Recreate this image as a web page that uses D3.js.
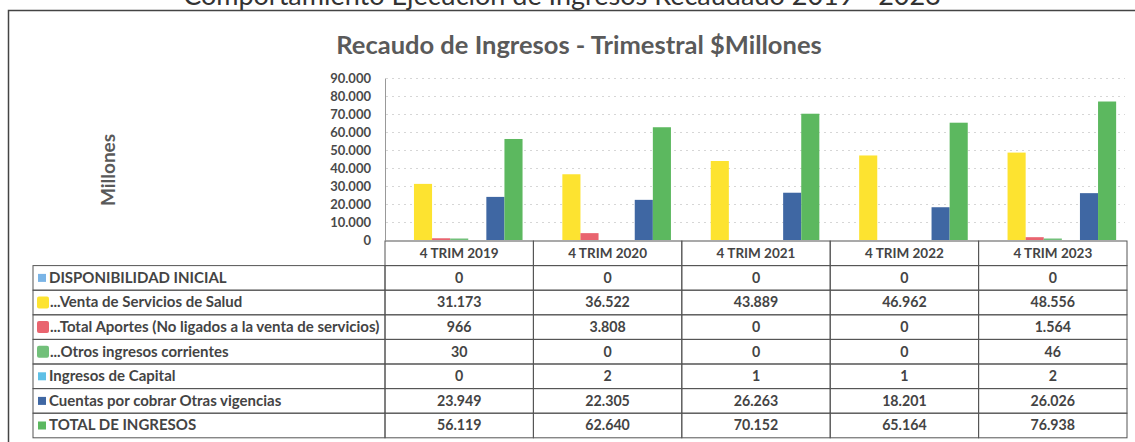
<!DOCTYPE html>
<html>
<head>
<meta charset="utf-8">
<script src="https://cdnjs.cloudflare.com/ajax/libs/d3/7.8.5/d3.min.js"></script>
<style>
  body { margin: 0; background: #fff; }
  svg { display: block; font-family: Lato, "Open Sans", sans-serif; }
</style>
</head>
<body>
<div id="viz"></div>
<script>
var width = 1135;
var height = 442;

// data
var categories = ["4 TRIM 2019", "4 TRIM 2020", "4 TRIM 2021", "4 TRIM 2022", "4 TRIM 2023"];
var seriesNames = [
  "DISPONIBILIDAD INICIAL",
  "...Venta de Servicios de Salud",
  "...Total Aportes (No ligados a la venta de servicios)",
  "...Otros ingresos corrientes",
  "Ingresos de Capital",
  "Cuentas por cobrar Otras vigencias",
  "TOTAL DE INGRESOS"
];
var seriesColors = ["#7ab4e6", "#fde330", "#e9646f", "#72c07a", "#5fc0e6", "#3f67a3", "#5cb85f"];
var disponibilidad = [0, 0, 0, 0, 0];
var ventaServicios = [31173, 36522, 43889, 46962, 48556];
var totalAportes = [966, 3808, 0, 0, 1564];
var otrosIngresos = [30, 0, 0, 0, 46];
var ingresosCapital = [0, 2, 1, 1, 2];
var cuentasCobrar = [23949, 22305, 26263, 18201, 26026];
var totalIngresos = [56119, 62640, 70152, 65164, 76938];
var yTicks = [0, 10000, 20000, 30000, 40000, 50000, 60000, 70000, 80000, 90000];

var seriesValues = [disponibilidad, ventaServicios, totalAportes, otrosIngresos,
                    ingresosCapital, cuentasCobrar, totalIngresos];

var es = d3.formatLocale({decimal: ",", thousands: ".", grouping: [3], currency: ["$", ""]});
var fmt = es.format(",d");

var canvas = d3.select("#viz")
    .append("svg")
    .attr("width", width)
    .attr("height", height);

// page heading, cut off by the scan
canvas.append("text")
    .attr("x", 562)
    .attr("y", 5)
    .attr("text-anchor", "middle")
    .attr("font-size", 27)
    .attr("fill", "#333")
    .text("Comportamiento Ejecución de Ingresos Recaudado 2019 - 2023");

// frame of the pasted chart
canvas.append("path")
    .attr("d", "M8.5," + height + "V10.5H" + width)
    .attr("fill", "none")
    .attr("stroke", "#444")
    .attr("stroke-width", 1.5);

canvas.append("text")
    .attr("x", 579)
    .attr("y", 54)
    .attr("text-anchor", "middle")
    .attr("font-size", 25.5)
    .attr("font-weight", "bold")
    .attr("fill", "#5a5a5a")
    .text("Recaudo de Ingresos - Trimestral $Millones");

var x0 = d3.scaleBand()
    .domain(categories)
    .range([385, 1127]);

var x1 = d3.scaleBand()
    .domain(d3.range(seriesNames.length))
    .range([0, x0.bandwidth()])
    .paddingOuter(0.6);

var y = d3.scaleLinear()
    .domain([0, 90000])
    .range([240, 78]);

// dotted grid
canvas.append("g")
    .selectAll("line")
    .data(yTicks.slice(1))
    .enter()
    .append("line")
    .attr("x1", 386)
    .attr("x2", 1125)
    .attr("y1", function(d){ return Math.round(y(d)) + 0.5; })
    .attr("y2", function(d){ return Math.round(y(d)) + 0.5; })
    .attr("stroke", "#d6d6d6")
    .attr("stroke-dasharray", "2,4");

var yAxis = d3.axisLeft(y)
    .tickValues(yTicks)
    .tickFormat(fmt)
    .tickSize(0)
    .tickPadding(14);

var yg = canvas.append("g")
    .attr("transform", "translate(385,0)")
    .call(yAxis);
yg.select(".domain").attr("stroke", "#999").attr("stroke-width", 1);
yg.selectAll("text")
    .attr("font-size", 13)
    .attr("font-weight", "bold")
    .attr("fill", "#4a4a4a")
    .attr("font-family", "Lato, sans-serif");

canvas.append("text")
    .attr("transform", "translate(115,170) rotate(-90)")
    .attr("text-anchor", "middle")
    .attr("font-size", 19)
    .attr("font-weight", "bold")
    .attr("fill", "#595959")
    .text("Millones");

// bars (values of a few units stay invisible, like the original)
var groups = canvas.append("g")
    .selectAll("g")
    .data(categories)
    .enter()
    .append("g")
    .attr("transform", function(d){ return "translate(" + x0(d) + ",0)"; });

groups.selectAll("rect")
    .data(function(d, ci){
        return seriesValues.map(function(s, si){ return {si: si, v: s[ci]}; });
    })
    .enter()
    .append("rect")
    .attr("x", function(d){ return x1(d.si); })
    .attr("width", x1.bandwidth())
    .attr("y", function(d){ return d.v >= 10 ? Math.min(y(d.v), y(0) - 1.5) : y(0); })
    .attr("height", function(d){ return d.v >= 10 ? Math.max(y(0) - y(d.v), 1.5) : 0; })
    .attr("fill", function(d){ return seriesColors[d.si]; });

// data table
var rowH = 24.6;
var headTop = 241;
var tableTop = headTop + rowH;
var labelLeft = 33;
var lineColor = "#555";
var fs = 14.2;
var table = canvas.append("g");

table.selectAll(".head")
    .data(categories)
    .enter()
    .append("rect")
    .attr("class", "head")
    .attr("x", function(d){ return x0(d); })
    .attr("y", headTop)
    .attr("width", x0.bandwidth())
    .attr("height", rowH)
    .attr("fill", "none")
    .attr("stroke", lineColor);

table.selectAll(".headText")
    .data(categories)
    .enter()
    .append("text")
    .attr("class", "headText")
    .attr("x", function(d){ return x0(d) + x0.bandwidth() / 2; })
    .attr("y", headTop + rowH / 2 + 5)
    .attr("text-anchor", "middle")
    .attr("font-size", 13.5)
    .attr("font-weight", "bold")
    .attr("fill", "#444")
    .text(function(d){ return d; });

var rows = table.selectAll(".row")
    .data(seriesNames)
    .enter()
    .append("g")
    .attr("class", "row")
    .attr("transform", function(d, i){ return "translate(0," + (tableTop + i * rowH) + ")"; });

rows.append("rect")
    .attr("x", labelLeft)
    .attr("width", 385 - labelLeft)
    .attr("height", rowH)
    .attr("fill", "none")
    .attr("stroke", lineColor);

function big(i){ return i >= 1 && i <= 3; }

rows.append("rect")
    .attr("x", function(d, i){ return big(i) ? 37 : 38; })
    .attr("y", function(d, i){ return big(i) ? rowH / 2 - 6 : rowH / 2 - 4; })
    .attr("width", function(d, i){ return big(i) ? 12 : 8; })
    .attr("height", function(d, i){ return big(i) ? 12 : 8; })
    .attr("rx", function(d, i){ return big(i) ? 2 : 0; })
    .attr("fill", function(d, i){ return seriesColors[i]; });

rows.append("text")
    .attr("x", function(d, i){ return big(i) ? 50 : 49; })
    .attr("y", rowH / 2 + 5)
    .attr("font-size", 15)
    .attr("font-weight", "bold")
    .attr("fill", "#444")
    .text(function(d){ return d; });

rows.each(function(name, si){
    var r = d3.select(this);
    r.selectAll(".cell")
        .data(categories)
        .enter()
        .append("rect")
        .attr("class", "cell")
        .attr("x", function(d){ return x0(d); })
        .attr("width", x0.bandwidth())
        .attr("height", rowH)
        .attr("fill", "none")
        .attr("stroke", lineColor);
    r.selectAll(".val")
        .data(categories)
        .enter()
        .append("text")
        .attr("class", "val")
        .attr("x", function(d){ return x0(d) + x0.bandwidth() / 2; })
        .attr("y", rowH / 2 + 5)
        .attr("text-anchor", "middle")
        .attr("font-size", fs)
        .attr("font-weight", "bold")
        .attr("fill", "#444")
        .text(function(d, ci){ return fmt(seriesValues[si][ci]); });
});
</script>
</body>
</html>
